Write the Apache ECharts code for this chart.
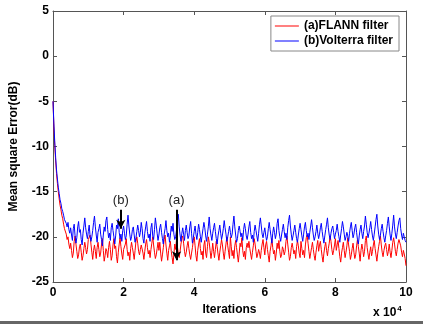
<!DOCTYPE html>
<html>
<head>
<meta charset="utf-8">
<script src="https://cdn.jsdelivr.net/npm/echarts@6/dist/echarts.min.js"></script>
<style>
  html, body { margin: 0; padding: 0; background: #fff; }
  #chart { width: 423px; height: 324px; }
</style>
</head>
<body>
<div id="chart"></div>
<script>
// x in units of 10^4 iterations, one sample every 0.025
const xStep = 0.025;
const seriesNames = ['(a)FLANN filter', '(b)Volterra filter'];
const xTicks = [0, 2, 4, 6, 8, 10];
const yTicks = [-25, -20, -15, -10, -5, 0, 5];

const flannMse = [
  -5, -7.8, -9.9, -11.6, -13.0, -14.1, -15.0, -15.8, -16.5, -17.0, -17.6, -18.0, -18.6, -19.1, -19.0, -19.7, -20.3, -20.0, -20.8, -21.3, -20.7,
  -21.5, -22.3, -21.8, -20.5, -19.9, -20.8, -21.6, -22.4, -22.0, -21.1, -20.8, -21.7, -22.6, -22.1, -21.3, -20.6, -21.2, -21.9, -21.4, -20.3,
  -20.3, -19.8, -20.8, -21.7, -22.5, -21.5, -20.9, -21.6, -22.4, -21.2, -20.6, -21.4, -22.2, -21.8, -20.8, -20.2, -21.5, -22.7, -22.1, -21.3,
  -21.6, -22.3, -21.2, -20.5, -21.4, -22.6, -22.1, -20.9, -20.2, -21.3, -21.0, -22.2, -22.9, -21.7, -20.8, -20.1, -21.1, -21.9, -22.5, -21.4,
  -21.6, -20.8, -20.2, -21.4, -22.1, -21.7, -22.6, -21.3, -20.6, -21.2, -21.8, -22.5, -21.5, -20.5, -20.0, -20.7, -21.6, -22.0, -21.4, -20.9,
  -21.1, -21.8, -22.5, -21.6, -20.8, -20.3, -21.2, -21.9, -21.5, -22.3, -21.4, -20.7, -20.0, -20.9, -21.7, -22.4, -22.0, -21.3, -20.6, -21.5,
  -20.6, -21.8, -22.7, -22.0, -21.2, -20.3, -19.8, -20.9, -21.8, -22.6, -21.5, -21.0, -20.5, -21.6, -22.3, -23.0, -21.9, -20.8, -21.4, -20.2,
  -21.1, -21.8, -22.3, -21.6, -20.8, -20.2, -19.9, -20.7, -21.6, -22.2, -21.7, -21.0, -20.5, -21.3, -22.0, -22.5, -21.8, -21.2, -20.4, -20.0,
  -21.0, -22.1, -22.7, -21.5, -20.8, -20.2, -21.3, -22.0, -21.6, -22.5, -20.9, -20.4, -21.8, -22.3, -21.1, -20.0, -20.6, -21.5, -22.4, -21.7,
  -20.7, -21.6, -22.3, -21.4, -20.5, -21.1, -21.9, -22.6, -21.7, -21.0, -20.3, -20.9, -21.8, -22.5, -21.6, -20.8, -20.0, -21.0, -21.7, -22.4,
  -20.0, -21.1, -22.1, -21.5, -22.4, -21.0, -20.4, -21.2, -22.0, -22.8, -21.8, -20.7, -21.1, -20.1, -21.5, -22.2, -21.6, -22.5, -21.2, -20.7,
  -21.2, -20.5, -21.3, -21.9, -22.5, -21.7, -21.0, -20.2, -20.8, -21.6, -22.3, -21.9, -21.4, -21.8, -22.4, -21.5, -20.8, -20.3, -21.2, -22.0,
  -20.9, -20.5, -21.4, -22.1, -22.8, -21.6, -21.0, -20.2, -21.2, -21.9, -21.5, -22.6, -21.8, -20.7, -21.3, -20.4, -21.6, -22.3, -22.0, -21.1,
  -21.4, -22.0, -21.6, -20.5, -19.9, -20.8, -21.7, -22.6, -22.2, -21.2, -20.7, -21.3, -21.9, -21.5, -22.4, -21.1, -20.4, -21.0, -21.8, -22.3,
  -20.5, -21.3, -22.0, -21.5, -22.3, -20.9, -20.1, -19.8, -20.7, -21.6, -22.4, -21.8, -21.2, -20.6, -21.4, -22.1, -22.6, -21.7, -21.0, -20.4,
  -21.6, -20.9, -20.5, -21.4, -22.2, -22.8, -21.8, -21.1, -20.6, -21.5, -22.1, -21.3, -20.7, -19.9, -20.5, -21.4, -22.0, -21.5, -20.9, -20.2,
  -21.5, -20.9, -20.4, -21.3, -22.2, -22.8, -21.8, -21.2, -20.6, -21.5, -22.3, -21.7, -21.0, -20.1, -20.9, -21.6, -22.5, -22.0, -21.3, -20.7,
  -21.7, -22.4, -22.0, -21.0, -20.3, -21.1, -21.8, -22.7, -21.5, -20.8, -21.4, -22.2, -21.6, -20.4, -19.9, -21.2, -21.9, -22.5, -21.7, -21.1,
  -22.1, -21.6, -20.9, -20.4, -21.3, -22.0, -22.7, -21.8, -21.1, -20.5, -19.9, -20.9, -21.7, -22.2, -21.5, -21.0, -20.7, -21.4, -22.1, -21.6,
  -20.8, -21.7, -22.3, -21.5, -20.6, -20.1, -20.8, -21.6, -22.1, -21.4, -20.7, -20.3, -20.5, -21.0, -21.7, -22.2, -21.5, -21.9, -22.4, -23.2
];

const volterraMse = [
  -5, -7.5, -9.5, -11.2, -12.6, -13.6, -14.5, -15.2, -15.9, -16.3, -16.9, -17.2, -17.6, -18.1, -17.9, -18.5, -18.9, -18.4, -19.2, -19.6, -19.0,
  -19.8, -20.4, -19.1, -18.6, -19.9, -20.7, -20.1, -18.9, -18.3, -19.5, -19.2, -20.3, -20.9, -19.6, -18.8, -17.9, -19.0, -19.7, -20.2, -19.4,
  -18.7, -19.9, -20.5, -20.0, -19.3, -18.4, -17.7, -18.9, -19.8, -20.6, -19.5, -19.1, -18.6, -19.7, -20.3, -21.0, -19.8, -18.9, -19.4, -18.2,
  -17.8, -19.2, -20.1, -19.6, -20.4, -19.0, -18.5, -19.3, -20.0, -20.8, -19.9, -18.7, -19.1, -18.0, -19.5, -20.2, -19.7, -20.5, -19.3, -18.8,
  -19.6, -20.3, -19.9, -18.6, -17.6, -18.8, -19.7, -20.4, -20.0, -19.2, -18.9, -19.8, -20.6, -20.1, -19.4, -18.7, -19.3, -20.0, -19.5, -18.4,
  -19.1, -20.2, -20.7, -19.6, -18.9, -18.3, -19.4, -20.1, -19.7, -20.5, -19.0, -18.5, -19.9, -20.3, -19.2, -17.9, -18.7, -19.6, -20.4, -19.8,
  -19.0, -18.6, -19.5, -20.2, -20.8, -19.7, -19.1, -18.2, -19.3, -20.0, -19.6, -20.6, -19.9, -18.8, -19.4, -18.5, -19.7, -20.3, -20.0, -19.2,
  -18.4, -17.5, -18.9, -19.8, -20.5, -19.6, -19.0, -19.7, -20.4, -19.3, -18.7, -19.5, -20.2, -19.9, -18.9, -18.3, -19.6, -20.7, -20.1, -19.4,
  -18.8, -19.7, -20.3, -19.5, -18.6, -19.2, -20.0, -20.6, -19.8, -19.1, -18.4, -19.0, -19.9, -20.5, -19.7, -18.9, -17.8, -19.1, -19.8, -20.4,
  -19.6, -19.0, -18.5, -19.4, -20.2, -20.8, -19.9, -19.3, -18.7, -19.6, -20.3, -19.8, -19.1, -18.2, -19.0, -19.7, -20.5, -20.0, -19.4, -18.8,
  -19.5, -20.1, -19.7, -18.6, -17.7, -18.9, -19.8, -20.6, -20.2, -19.3, -18.8, -19.4, -20.0, -19.6, -20.4, -19.2, -18.5, -19.1, -19.9, -20.3,
  -19.7, -18.9, -18.3, -19.5, -20.2, -19.8, -20.6, -19.4, -18.7, -19.3, -19.9, -20.5, -19.6, -18.6, -17.9, -18.8, -19.7, -20.1, -19.5, -19.0,
  -19.8, -20.4, -20.0, -19.1, -18.4, -19.2, -19.9, -20.7, -19.6, -18.9, -19.5, -20.2, -19.7, -18.5, -18.0, -19.3, -20.0, -20.5, -19.8, -19.2,
  -18.6, -19.4, -20.1, -19.6, -20.3, -19.0, -18.2, -17.6, -18.8, -19.7, -20.4, -19.9, -19.3, -18.7, -19.5, -20.2, -20.6, -19.8, -19.1, -18.5,
  -19.2, -19.9, -20.5, -19.7, -18.9, -18.4, -19.3, -20.0, -19.6, -20.3, -19.5, -18.8, -18.1, -19.0, -19.8, -20.4, -20.0, -19.4, -18.7, -19.6,
  -20.2, -19.7, -19.0, -18.5, -19.4, -20.1, -20.7, -19.9, -19.2, -18.6, -17.9, -19.0, -19.8, -20.3, -19.6, -19.1, -18.8, -19.5, -20.2, -19.7,
  -19.3, -18.6, -19.4, -20.0, -20.6, -19.8, -19.1, -18.3, -18.9, -19.7, -20.4, -20.0, -19.5, -19.9, -20.5, -19.6, -18.9, -18.4, -19.3, -20.1,
  -19.7, -19.0, -18.6, -19.5, -20.3, -20.8, -19.9, -19.2, -18.7, -19.6, -20.2, -19.4, -18.8, -17.7, -18.6, -19.5, -20.1, -19.6, -19.0, -18.3,
  -19.2, -19.9, -20.4, -19.7, -18.9, -18.1, -17.5, -18.8, -19.7, -20.3, -19.8, -19.1, -18.6, -19.4, -20.1, -20.6, -19.9, -19.3, -18.5, -17.8,
  -18.9, -19.8, -20.4, -19.6, -18.7, -17.6, -18.9, -19.7, -20.2, -19.5, -18.8, -18.2, -17.9, -19.1, -19.8, -20.3, -19.6, -20.0, -20.4, -20.6
];

// arrow annotations in data coordinates: [x, yStart, yEnd]
const arrowA = [3.5, -17.0, -22.6];
const arrowB = [1.92, -17.0, -19.1];

const font = 'Liberation Sans, Arial, sans-serif';
const toPairs = (vals) => vals.map((v, i) => [+(i * xStep).toFixed(3), v]);

const chart = echarts.init(document.getElementById('chart'), null, { renderer: 'canvas' });

const axisCommon = {
  type: 'value',
  axisLine: { show: true, onZero: false, lineStyle: { color: '#555', width: 1 } },
  axisTick: { show: true, inside: true, length: 4, lineStyle: { color: '#555' } },
  splitLine: { show: false },
};

const arrowLine = (a, text) => [
  { coord: [a[0], a[1]], label: { formatter: text } },
  { coord: [a[0], a[2]] }
];

const option = {
  animation: false,
  textStyle: { fontFamily: font },
  grid: { left: 47, right: 17, top: 11, bottom: 42, containLabel: false },
  legend: {
    data: seriesNames,
    orient: 'vertical',
    right: 24,
    top: 16,
    padding: [4, 6, 4, 4],
    itemGap: 3,
    icon: 'rect',
    itemWidth: 24,
    itemHeight: 1,
    backgroundColor: '#fff',
    borderColor: '#888',
    borderWidth: 1,
    textStyle: { fontFamily: font, fontWeight: 'bold', fontSize: 12, color: '#000' },
  },
  xAxis: [
    Object.assign({}, axisCommon, {
      min: 0, max: 10, interval: 2, position: 'bottom',
      name: 'Iterations', nameLocation: 'middle', nameGap: 17,
      nameTextStyle: { fontFamily: font, fontWeight: 'bold', fontSize: 12, color: '#000' },
      axisLabel: {
        margin: 5, fontFamily: font, fontWeight: 'bold', fontSize: 12, color: '#000',
        formatter: (v) => xTicks.includes(v) ? String(v) : ''
      },
    }),
    Object.assign({}, axisCommon, {
      min: 0, max: 10, interval: 2, position: 'top', axisLabel: { show: false }
    })
  ],
  yAxis: [
    Object.assign({}, axisCommon, {
      min: -25, max: 5, interval: 5, position: 'left',
      name: 'Mean square Error(dB)', nameLocation: 'middle', nameGap: 33,
      nameTextStyle: { fontFamily: font, fontWeight: 'bold', fontSize: 12, color: '#000' },
      axisLabel: {
        margin: 4, fontFamily: font, fontWeight: 'bold', fontSize: 12, color: '#000',
        formatter: (v) => yTicks.includes(v) ? String(v) : ''
      },
    }),
    Object.assign({}, axisCommon, {
      min: -25, max: 5, interval: 5, position: 'right', axisLabel: { show: false }
    })
  ],
  series: [
    {
      name: seriesNames[0], type: 'line', data: toPairs(flannMse),
      showSymbol: false, symbol: 'none',
      lineStyle: { color: '#ff0000', width: 1 }, itemStyle: { color: '#ff0000' },
    },
    {
      name: seriesNames[1], type: 'line', data: toPairs(volterraMse),
      showSymbol: false, symbol: 'none',
      lineStyle: { color: '#0000ff', width: 1 }, itemStyle: { color: '#0000ff' },
      markLine: {
        silent: true,
        symbol: ['none', 'arrow'],
        symbolSize: [7, 9],
        lineStyle: { color: '#000', width: 2, type: 'solid' },
        label: {
          show: true, position: 'start', distance: 3,
          fontFamily: font, fontSize: 13, color: '#222'
        },
        data: [arrowLine(arrowB, '(b)'), arrowLine(arrowA, '(a)')]
      }
    }
  ],
  graphic: [
    {
      type: 'text', left: 373, top: 305,
      style: {
        text: 'x 10{sup|4}',
        font: 'bold 12px ' + font, fill: '#000',
        rich: { sup: { fontSize: 8, fontWeight: 'bold', verticalAlign: 'top', padding: [0, 0, 8, 1] } }
      }
    },
    {
      type: 'rect', left: 0, top: 321,
      shape: { width: 423, height: 3 },
      style: { fill: '#666' }
    }
  ]
};

chart.setOption(option);
</script>
</body>
</html>
